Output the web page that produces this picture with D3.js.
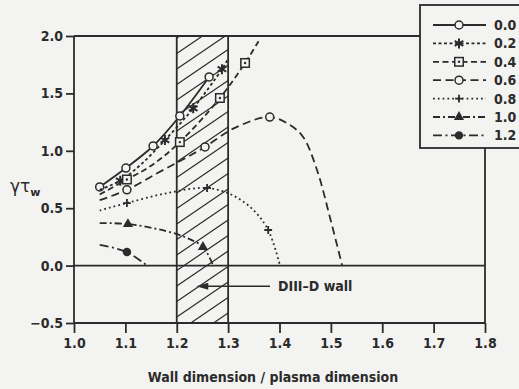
<!DOCTYPE html>
<html>
<head>
<meta charset="utf-8">
<script src="https://cdn.jsdelivr.net/npm/d3@7"></script>
<style>
  html, body { margin: 0; padding: 0; background: #f3f3f1; }
  svg { display: block; }
  text { font-family: "Liberation Sans Narrow", "DejaVu Sans Condensed", sans-serif; font-weight: bold; fill: #2b2b2b; }
</style>
</head>
<body>
<div id="chart"></div>
<script>
// Tick labels
var xTicks = [1.0, 1.1, 1.2, 1.3, 1.4, 1.5, 1.6, 1.7, 1.8];
var yTicks = [-0.5, 0.0, 0.5, 1.0, 1.5, 2.0];

// Series names (legend)
var seriesNames = ['0.0', '0.2', '0.4', '0.6', '0.8', '1.0', '1.2'];

// Curve points, plus which points carry a marker
var s00x = [1.05, 1.101, 1.154, 1.206, 1.263];
var s00y = [0.685, 0.85, 1.042, 1.303, 1.643];
var s00m = [0, 1, 2, 3, 4];

var s02x = [1.05, 1.09, 1.13, 1.177, 1.232, 1.288, 1.30];
var s02y = [0.66, 0.74, 0.88, 1.093, 1.37, 1.711, 1.80];
var s02m = [1, 3, 4, 5];

var s04x = [1.05, 1.103, 1.15, 1.206, 1.284, 1.333, 1.36];
var s04y = [0.62, 0.75, 0.87, 1.076, 1.46, 1.765, 1.96];
var s04m = [1, 3, 4, 5];

var s06x = [1.05, 1.103, 1.16, 1.21, 1.255, 1.313, 1.381, 1.42, 1.446, 1.473, 1.498, 1.522];
var s06y = [0.57, 0.66, 0.80, 0.92, 1.034, 1.20, 1.294, 1.225, 1.12, 0.833, 0.424, 0.0];
var s06m = [1, 4, 6];

var s08x = [1.05, 1.103, 1.18, 1.259, 1.31, 1.35, 1.378, 1.401];
var s08y = [0.48, 0.545, 0.63, 0.676, 0.61, 0.48, 0.31, 0.0];
var s08m = [1, 3, 6];

var s10x = [1.05, 1.105, 1.18, 1.22, 1.251, 1.271];
var s10y = [0.37, 0.362, 0.30, 0.24, 0.162, 0.0];
var s10m = [1, 4];

var s12x = [1.05, 1.103, 1.142];
var s12y = [0.18, 0.118, 0.0];
var s12m = [1];

// Shaded DIII-D wall band
var wallRange = [1.2, 1.3];

var ink = '#2b2b2b';
var paper = '#f3f3f1';
var width = 519, height = 389;

var svg = d3.select('#chart').append('svg')
    .attr('width', width)
    .attr('height', height);

var x = d3.scaleLinear().domain([1.0, 1.8]).range([74, 485]);
var y = d3.scaleLinear().domain([-0.5, 2.0]).range([323, 36]);

// line style + marker per series
var styles = [
    { dash: null,          marker: 'circle' },
    { dash: '3,2.5',       marker: 'star' },
    { dash: '6,3.5',       marker: 'square' },
    { dash: '8,4.5',       marker: 'circle' },
    { dash: '1.8,3',       marker: 'plus' },
    { dash: '7,3,2,3',     marker: 'triangle' },
    { dash: '9,3.5,2,3.5', marker: 'dot' }
];

var seriesData = [
    [s00x, s00y, s00m], [s02x, s02y, s02m], [s04x, s04y, s04m], [s06x, s06y, s06m],
    [s08x, s08y, s08m], [s10x, s10y, s10m], [s12x, s12y, s12m]
].map(function(s, i) {
    return {
        name: seriesNames[i],
        points: s[0].map(function(v, j) { return { x: v, y: s[1][j] }; }),
        marks: s[2].map(function(j) { return { x: s[0][j], y: s[1][j] }; }),
        style: styles[i]
    };
});

// hatched wall band
var bx0 = x(wallRange[0]), bx1 = x(wallRange[1]);
var yTop = y(2.0), yBot = y(-0.5);
svg.append('clipPath').attr('id', 'band')
    .append('rect')
    .attr('x', bx0).attr('y', yTop)
    .attr('width', bx1 - bx0).attr('height', yBot - yTop);

var hatch = svg.append('g').attr('clip-path', 'url(#band)');
var slope = 0.68, step = 15.5;
for (var k = yTop - 60; k < yBot + 60; k += step) {
    hatch.append('line')
        .attr('x1', bx0).attr('y1', k)
        .attr('x2', bx1).attr('y2', k - (bx1 - bx0) * slope)
        .attr('stroke', ink).attr('stroke-width', 1.2);
}
svg.append('line').attr('x1', bx0).attr('x2', bx0).attr('y1', yTop).attr('y2', yBot)
    .attr('stroke', ink).attr('stroke-width', 1.8);
svg.append('line').attr('x1', bx1).attr('x2', bx1).attr('y1', yTop).attr('y2', yBot)
    .attr('stroke', ink).attr('stroke-width', 1.8);

// frame
var frame = svg.append('g').attr('stroke', ink).attr('stroke-width', 1.8).attr('fill', 'none');
frame.append('line').attr('x1', x(1.0)).attr('x2', x(1.0)).attr('y1', yTop).attr('y2', yBot);
frame.append('line').attr('x1', x(1.0)).attr('x2', 420).attr('y1', yTop).attr('y2', yTop);
frame.append('line').attr('x1', x(1.8)).attr('x2', x(1.8)).attr('y1', 148).attr('y2', yBot);
frame.append('line').attr('x1', x(1.0)).attr('x2', x(1.8)).attr('y1', yBot).attr('y2', yBot);
frame.append('line').attr('x1', x(1.0)).attr('x2', x(1.8)).attr('y1', y(0)).attr('y2', y(0));

// axes
var yAxis = svg.append('g')
    .attr('transform', 'translate(' + x(1.0) + ',0)')
    .call(d3.axisLeft(y).tickValues(yTicks).tickSize(8).tickPadding(3)
        .tickFormat(function(d) { return d < 0 ? '\u2212' + d3.format('.1f')(-d) : d3.format('.1f')(d); }));
var xAxis = svg.append('g')
    .attr('transform', 'translate(0,' + yBot + ')')
    .call(d3.axisBottom(x).tickValues(xTicks).tickSize(10).tickPadding(5).tickFormat(d3.format('.1f')));
[xAxis, yAxis].forEach(function(a) {
    a.select('.domain').remove();
    a.selectAll('line').attr('stroke', ink).attr('stroke-width', 1.8);
    a.selectAll('text').attr('font-size', 14).attr('fill', ink)
        .style('font-family', '"Liberation Sans Narrow", "DejaVu Sans Condensed", sans-serif')
        .style('font-weight', 'bold');
});

// curves
var line = d3.line()
    .x(function(d) { return x(d.x); })
    .y(function(d) { return y(d.y); })
    .curve(d3.curveCatmullRom.alpha(0.5));

function drawMarker(g, type, cx, cy) {
    var at = 'translate(' + cx + ',' + cy + ')';
    if (type === 'circle') {
        g.append('circle').attr('cx', cx).attr('cy', cy).attr('r', 4)
            .attr('fill', paper).attr('stroke', ink).attr('stroke-width', 1.5);
    } else if (type === 'dot') {
        g.append('circle').attr('cx', cx).attr('cy', cy).attr('r', 4.2).attr('fill', ink);
    } else if (type === 'square') {
        var s = 8.5;
        g.append('rect').attr('x', cx - s / 2).attr('y', cy - s / 2).attr('width', s).attr('height', s)
            .attr('fill', paper).attr('stroke', ink).attr('stroke-width', 1.5);
        g.append('circle').attr('cx', cx).attr('cy', cy).attr('r', 1.2).attr('fill', ink);
    } else if (type === 'star') {
        g.append('path').attr('transform', at)
            .attr('d', d3.symbol().type(d3.symbolAsterisk).size(70)())
            .attr('stroke', ink).attr('stroke-width', 2).attr('fill', 'none');
    } else if (type === 'plus') {
        g.append('path').attr('transform', at)
            .attr('d', d3.symbol().type(d3.symbolPlus).size(22)())
            .attr('stroke', ink).attr('stroke-width', 1.8).attr('fill', 'none');
    } else if (type === 'triangle') {
        g.append('path').attr('transform', at)
            .attr('d', d3.symbol().type(d3.symbolTriangle).size(45)())
            .attr('fill', ink);
    }
}

var curves = svg.append('g');
seriesData.forEach(function(s) {
    curves.append('path')
        .attr('d', line(s.points))
        .attr('fill', 'none')
        .attr('stroke', ink)
        .attr('stroke-width', 1.8)
        .attr('stroke-dasharray', s.style.dash);
    s.marks.forEach(function(p) {
        drawMarker(curves, s.style.marker, x(p.x), y(p.y));
    });
});

// DIII-D wall annotation
var ay = y(-0.18);
svg.append('line').attr('x1', 270).attr('x2', x(1.245)).attr('y1', ay).attr('y2', ay)
    .attr('stroke', ink).attr('stroke-width', 1.5);
svg.append('path')
    .attr('d', d3.line()([[x(1.238), ay], [x(1.238) + 12, ay - 3.5], [x(1.238) + 12, ay + 3.5]]) + 'Z')
    .attr('fill', ink);
svg.append('text').attr('x', 278).attr('y', ay + 5)
    .attr('font-size', 14).text('DIII\u2013D wall');

// legend
var lg = svg.append('g');
lg.append('rect').attr('x', 420).attr('y', 5).attr('width', 120).attr('height', 143)
    .attr('fill', paper).attr('stroke', ink).attr('stroke-width', 1.8);
seriesData.forEach(function(s, i) {
    var ly = 25 + i * 18.4;
    lg.append('line').attr('x1', 433).attr('x2', 486).attr('y1', ly).attr('y2', ly)
        .attr('stroke', ink).attr('stroke-width', 1.8)
        .attr('stroke-dasharray', s.style.dash);
    drawMarker(lg, s.style.marker, 459, ly);
    lg.append('text').attr('x', 494).attr('y', ly + 5).attr('font-size', 14).text(s.name);
});

// axis titles
svg.append('text').attr('x', 273).attr('y', 382).attr('text-anchor', 'middle')
    .attr('font-size', 14).text('Wall dimension / plasma dimension');

var yl = svg.append('text').attr('x', 10).attr('y', 192)
    .style('font-family', '"DejaVu Sans", sans-serif').attr('font-size', 17).style('font-weight', 'normal');
yl.append('tspan').text('\u03b3\u03c4');
yl.append('tspan').attr('dy', 4).attr('font-size', 11).style('font-weight', 'bold').text('w');
</script>
</body>
</html>
